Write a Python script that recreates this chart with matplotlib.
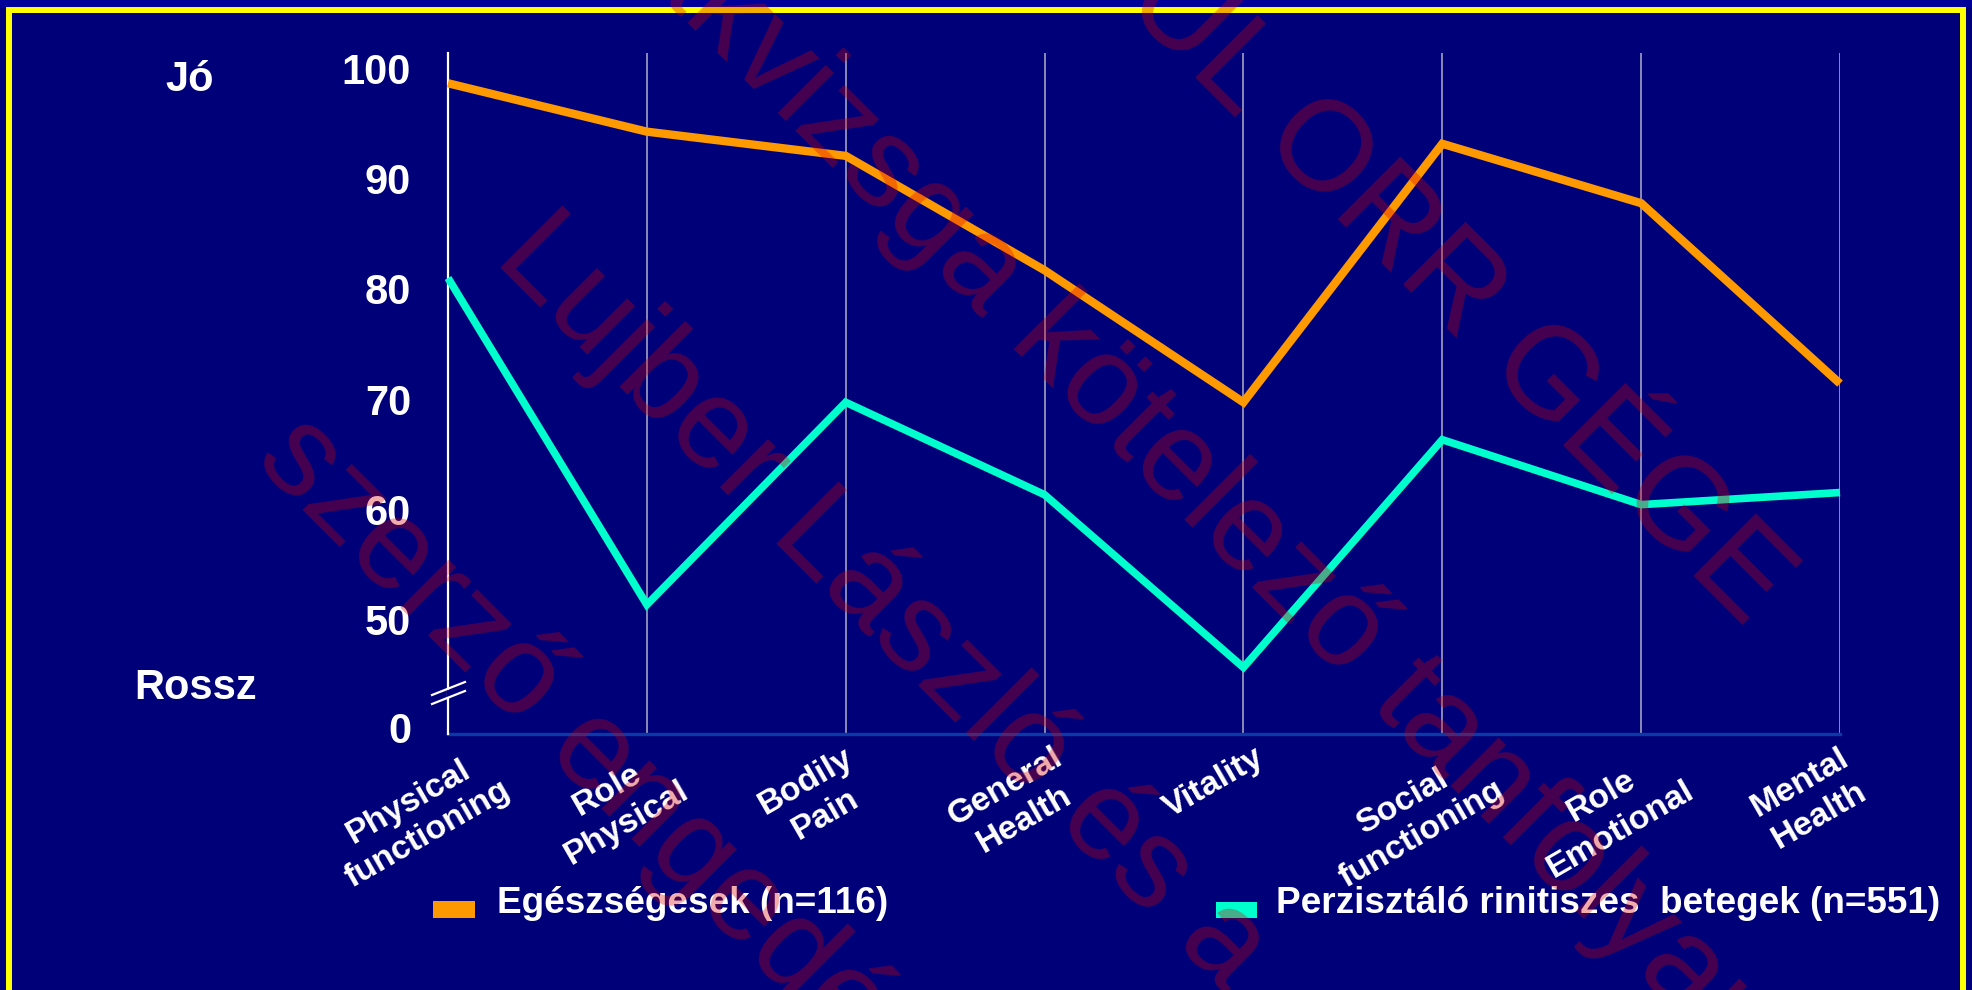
import matplotlib
matplotlib.use("Agg")
import matplotlib.pyplot as plt
from matplotlib.transforms import blended_transform_factory, ScaledTranslation
from matplotlib.patches import Rectangle
from matplotlib.lines import Line2D

plt.rcParams['font.family'] = ['Liberation Sans', 'DejaVu Sans']

# ---------------- data ----------------
categories = ["Physical\nfunctioning", "Role\nPhysical", "Bodily\nPain", "General\nHealth",
              "Vitality", "Social\nfunctioning", "Role\nEmotional", "Mental\nHealth"]
healthy = [98.7, 94.3, 92.1, 81.7, 69.7, 93.2, 87.8, 71.4]
rhinitis = [81.0, 51.3, 69.7, 61.3, 45.6, 66.3, 60.4, 61.5]
ytick_values = [100, 90, 80, 70, 60, 50]
ytick_labels = ["100", "90", "80", "70", "60", "50"]
zero_label = "0"
series_labels = ["Egészségesek (n=116)", "Perzisztáló rinitiszes  betegek (n=551)"]
top_label = "Jó"
bottom_label = "Rossz"
watermarks = ["Szakvizsga kötelező tanfolyam", "Lujber László és a",
              "szerző engedélyével", "FÜL ORR GÉGE"]

# ---------------- layout / style ----------------
W, H, DPI = 1972, 990, 100
BG = '#000078'
ORANGE = '#FF9900'
CYAN = '#00FFCC'
ZERO_POS = 40.1          # where the "0" label sits below the axis break

def fx(x):
    return x / W

def fy(y):
    return 1 - y / H

fig = plt.figure(figsize=(W / DPI, H / DPI), dpi=DPI, facecolor=BG)

# frame
fig.add_artist(Rectangle((0, fy(7)), 1, 7 / H, transform=fig.transFigure,
                         facecolor='#000098', edgecolor='none', zorder=0))
fig.add_artist(Rectangle((fx(9), fy(1100)), fx(1963) - fx(9), 1090 / H,
                         transform=fig.transFigure, facecolor='none',
                         edgecolor='#FFFF00', lw=4.3, zorder=1))

ax = fig.add_axes([fx(448), fy(734), fx(1840) - fx(448), fy(53) - fy(734)])
ax.set_facecolor(BG)
ax.set_xlim(0, len(categories) - 1)
ax.set_ylim(39.55, 101.45)

x = list(range(len(categories)))
ax.plot(x, healthy, color=ORANGE, lw=6, solid_joinstyle='miter',
        solid_capstyle='butt', zorder=4, clip_on=False)
ax.plot(x, rhinitis, color=CYAN, lw=5.5, solid_joinstyle='miter',
        solid_capstyle='butt', zorder=4, clip_on=False)

ax.set_xticks(x)
ax.tick_params(axis='x', length=0, labelbottom=False)
ax.xaxis.grid(True, color='#8a8ab4', lw=1.4, zorder=1)
ax.yaxis.grid(False)

for s in ['top', 'right']:
    ax.spines[s].set_visible(False)
ax.spines['left'].set_color('white')
ax.spines['left'].set_linewidth(1.6)
ax.spines['left'].set_zorder(3)
ax.spines['bottom'].set_color('#0b3aa6')
ax.spines['bottom'].set_linewidth(2.4)

ax.set_yticks(ytick_values + [ZERO_POS], ytick_labels + [zero_label])
ax.tick_params(axis='y', length=0, pad=26.5, labelsize=30, labelcolor='white')
for lab in ax.get_yticklabels():
    lab.set_fontweight('bold')

# category labels
trans = blended_transform_factory(ax.transData, ax.transAxes) + \
    ScaledTranslation(-30 / DPI, -8 / DPI, fig.dpi_scale_trans)
for i, cat in enumerate(categories):
    ax.text(i, 0, cat, transform=trans, rotation=30, rotation_mode='default',
            ha='center', va='top', multialignment='center', linespacing=1.3,
            fontsize=24.5, fontweight='bold', color='white', clip_on=False)

# axis break marks
for y0 in (688, 697):
    fig.add_artist(Line2D([fx(432), fx(465)], [fy(y0 + 7), fy(y0 - 6)],
                          transform=fig.transFigure, color='white', lw=1.6, zorder=6))
fig.add_artist(Line2D([fx(448), fx(448)], [fy(690.5), fy(694.5)],
                      transform=fig.transFigure, color=BG, lw=2.5, zorder=5))

# Jó / Rossz
fig.text(fx(190), fy(80), top_label, ha='center', va='center', fontsize=30,
         fontweight='bold', color='white')
fig.text(fx(196), fy(688), bottom_label, ha='center', va='center', fontsize=30,
         fontweight='bold', color='white')

# legend
leg = [(433, 475, 901, 918, ORANGE, 497), (1216, 1257, 902, 918, CYAN, 1276)]
for (x0, x1, y0, y1, col, tx), lab in zip(leg, series_labels):
    fig.add_artist(Rectangle((fx(x0), fy(y1)), fx(x1) - fx(x0), (y1 - y0) / H,
                             transform=fig.transFigure, facecolor=col,
                             edgecolor='none', zorder=3))
    fig.text(fx(tx), fy(913), lab, ha='left', va='baseline', fontsize=26.6,
             fontweight='bold', color='white')

# watermark
wm_centers = [(1166, 454), (882, 603), (689, 848), (1430, 265)]
for (cx, cy), txt in zip(wm_centers, watermarks):
    fig.text(fx(cx), fy(cy), txt, rotation=-45, rotation_mode='anchor',
             ha='center', va='center', fontsize=92, color=(0.85, 0.0, 0.0),
             alpha=0.33, zorder=20)

fig.savefig('out.png', dpi=DPI, facecolor=BG)
